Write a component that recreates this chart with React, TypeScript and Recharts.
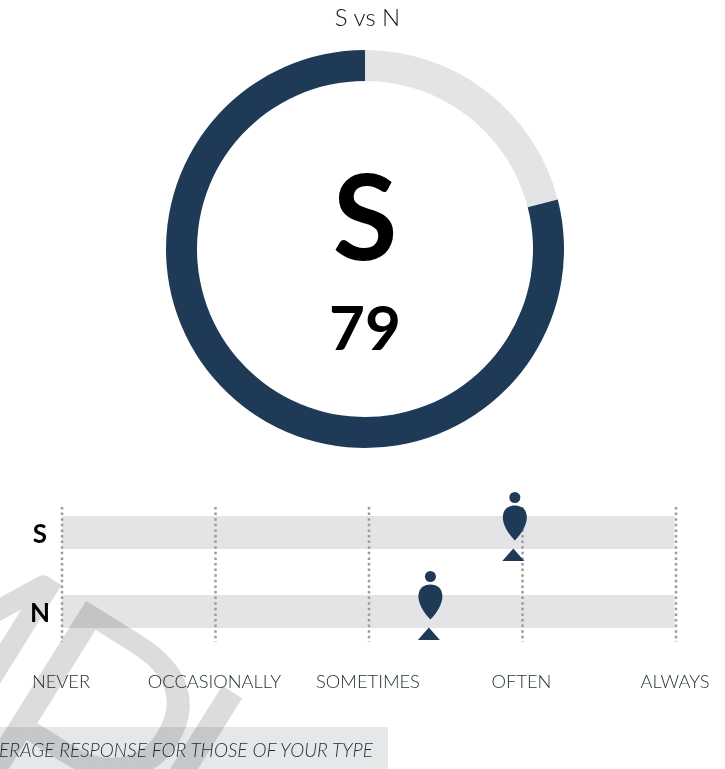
import {
  Bar,
  CartesianGrid,
  Cell,
  ComposedChart,
  Pie,
  PieChart,
  Scatter,
  XAxis,
  YAxis,
} from 'recharts'

const FONT = 'Lato, "Noto Sans", sans-serif'
const NAVY = '#1f3a56'
const GREY = '#e3e4e6'

const donutNames = ['N', 'S']
const donutValues = [21, 79]
const donutColors = [GREY, NAVY]

const rowNames = ['S', 'N']
const rowTrack = [3.99, 3.99]
const rowPerson = [2.95, 2.4]
const rowPeer = [2.94, 2.39]
const scaleLabels = ['NEVER', 'OCCASIONALLY', 'SOMETIMES', 'OFTEN', 'ALWAYS']

const donutData = donutNames.map((name, i) => ({ name, value: donutValues[i] }))
const rows = rowNames.map((name, i) => ({
  name,
  track: rowTrack[i],
  person: rowPerson[i],
  peer: rowPeer[i],
}))

function PersonShape({ cx, cy }: any) {
  return (
    <g fill={NAVY}>
      <circle cx={cx} cy={cy - 35} r={5.5} />
      <path
        d={`M${cx} ${cy + 8} C${cx - 7} ${cy + 1} ${cx - 12} ${cy - 8} ${cx - 12} ${cy - 15} C${cx - 12} ${cy - 23} ${cx - 7} ${cy - 27} ${cx} ${cy - 27} C${cx + 7} ${cy - 27} ${cx + 12} ${cy - 23} ${cx + 12} ${cy - 15} C${cx + 12} ${cy - 8} ${cx + 7} ${cy + 1} ${cx} ${cy + 8} Z`}
      />
    </g>
  )
}

function PeerShape({ cx, cy }: any) {
  return <path fill={NAVY} d={`M${cx} ${cy + 16} L${cx + 11} ${cy + 28.5} L${cx - 11} ${cy + 28.5} Z`} />
}

function RowTick({ y, payload }: any) {
  return (
    <text x={40} y={y} dy={10} textAnchor="middle" fontFamily={FONT} fontWeight={700} fontSize={26} fill="#000">
      {payload.value}
    </text>
  )
}

export default function App() {
  return (
    <div style={{ position: 'absolute', left: 0, top: 0, width: 725, height: 769, overflow: 'hidden', background: '#fff', fontFamily: FONT }}>
      <div style={{ position: 'absolute', left: 0, width: 735, top: 2, textAlign: 'center', fontSize: 24, fontWeight: 300, color: '#111' }}>
        S vs N
      </div>

      <div style={{ position: 'absolute', left: 0, top: 0 }}>
        <PieChart width={730} height={498} margin={{ top: 0, right: 0, bottom: 0, left: 0 }}>
          <Pie
            data={donutData}
            dataKey="value"
            nameKey="name"
            cx={365}
            cy={249}
            innerRadius={168}
            outerRadius={199}
            startAngle={90}
            endAngle={-270}
            stroke="none"
            isAnimationActive={false}
          >
            {donutData.map((d, i) => (
              <Cell key={d.name} fill={donutColors[i]} />
            ))}
          </Pie>
        </PieChart>
      </div>
      <div style={{ position: 'absolute', left: 265, width: 200, top: 140, textAlign: 'center', fontSize: 118, lineHeight: '150px', fontWeight: 700, color: '#000' }}>
        S
      </div>
      <div style={{ position: 'absolute', left: 265, width: 200, top: 288, textAlign: 'center', fontSize: 62, lineHeight: '76px', fontWeight: 700, color: '#000' }}>
        79
      </div>

      <div style={{ position: 'absolute', left: 0, top: 480 }}>
        <ComposedChart
          width={725}
          height={212}
          layout="vertical"
          data={rows}
          margin={{ top: 27, right: 49, bottom: 0, left: 0 }}
        >
          <XAxis
            type="number"
            domain={[0, 4]}
            ticks={[0, 1, 2, 3, 4]}
            tickFormatter={(v) => scaleLabels[v]}
            interval={0}
            height={50}
            axisLine={false}
            tickLine={false}
            tick={{ fill: '#1f2d33', fontSize: 18.3, fontWeight: 300, fontFamily: FONT, dx: -1 }}
            tickMargin={27}
          />
          <YAxis
            type="category"
            dataKey="name"
            width={62}
            axisLine={false}
            tickLine={false}
            padding={{ top: -14, bottom: -9 }}
            tick={<RowTick />}
          />
          <Bar dataKey="track" fill={GREY} barSize={33} isAnimationActive={false} />
          <CartesianGrid horizontal={false} stroke="#9a9b9d" strokeWidth={2.5} strokeDasharray="2.5 3.1" zIndex={400} />
          <Scatter dataKey="person" shape={<PersonShape />} isAnimationActive={false} />
          <Scatter dataKey="peer" shape={<PeerShape />} isAnimationActive={false} />
        </ComposedChart>
      </div>

      <div style={{ position: 'absolute', left: -40, top: 727, width: 428, height: 42, background: '#e6e7e8' }} />
      <div style={{ position: 'absolute', right: 352, top: 739, whiteSpace: 'nowrap', fontSize: 19, fontStyle: 'italic', fontWeight: 300, lineHeight: '22px', color: '#1f2d33' }}>
        AVERAGE RESPONSE FOR THOSE OF YOUR TYPE
      </div>

      <svg width={725} height={769} style={{ position: 'absolute', left: 0, top: 0, pointerEvents: 'none', mixBlendMode: 'multiply' }}>
        <text
          transform="translate(-581 471) rotate(32)"
          fontFamily={FONT}
          fontWeight={300}
          fontSize={340}
          letterSpacing={-36}
          fill="#dcdcdc"
          stroke="#dcdcdc"
          strokeWidth={6}
          strokeLinejoin="miter"
        >
          SAMPL<tspan dx={30}>E</tspan>
        </text>
      </svg>
    </div>
  )
}
